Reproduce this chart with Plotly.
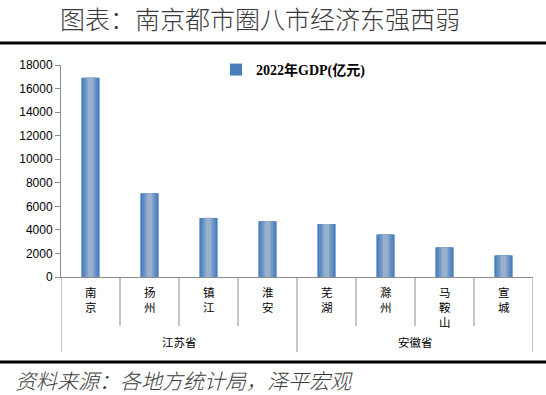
import plotly.graph_objects as go

cities = ["南京", "扬州", "镇江", "淮安", "芜湖", "滁州", "马鞍山", "宣城"]
provinces = ["江苏省", "安徽省"]
province_counts = [4, 4]
gdp = [16907, 7105, 5017, 4742, 4502, 3610, 2521, 1834]
series_name = "2022年GDP(亿元)"
y_ticks = [0, 2000, 4000, 6000, 8000, 10000, 12000, 14000, 16000, 18000]
title_text = "图表：南京都市圈八市经济东强西弱"
source_text = "资料来源：各地方统计局，泽平宏观"

W, H = 546, 395
L, R, T, B = 61, 13, 65, 118
PW, PH = W - L - R, H - T - B

def px_x(px):
    return (px - L) / PW

def px_y(py):
    return (H - B - py) / PH

fig = go.Figure()
layers = [(0.31, "#4A7EBB"), (0.25, "#5A8AC2"), (0.18, "#7599C6"), (0.10, "#98B0CB")]
for i, (w, c) in enumerate(layers):
    fig.add_trace(go.Bar(
        x=list(range(len(cities))), y=gdp, width=w, name=series_name,
        marker=dict(color=c, line=dict(width=0)),
        showlegend=(i == 0), hoverinfo="skip" if i else None,
    ))

fig.update_layout(
    width=W, height=H, barmode="overlay",
    margin=dict(l=L, r=R, t=T, b=B),
    plot_bgcolor="white", paper_bgcolor="white",
    showlegend=True,
    legend=dict(x=px_x(216), y=px_y(54), xanchor="left", yanchor="top",
                bgcolor="rgba(0,0,0,0)",
                font=dict(family="Liberation Serif, Noto Sans CJK SC", size=14, color="black", weight="bold"),
                itemwidth=30),
    xaxis=dict(range=[-0.5, len(cities) - 0.5], showticklabels=False, ticks="",
               showline=True, linecolor="#8C8C8C", linewidth=1, showgrid=False, zeroline=False),
    yaxis=dict(range=[0, 18000], tickvals=y_ticks, ticktext=[str(v) for v in y_ticks],
               ticks="outside", ticklen=5,
               tickcolor="#8C8C8C", showline=True, linecolor="#8C8C8C", linewidth=1,
               showgrid=False, zeroline=False,
               tickfont=dict(family="Liberation Sans, Arial", size=12, color="black")),
)

annotations = []
shapes = []
for i, c in enumerate(cities):
    annotations.append(dict(
        x=i, xref="x", y=px_y(282), yref="paper", yanchor="top", xanchor="center",
        text="<br>".join(list(c)), showarrow=False,
        font=dict(family="Noto Sans CJK SC", size=11.5, color="black")))

for k in range(len(cities) + 1):
    xpos = k - 0.5
    is_long = k in (0, 4, 8)
    shapes.append(dict(type="line", xref="x", yref="paper", x0=xpos, x1=xpos,
                       y0=0, y1=px_y(352 if is_long else 326),
                       line=dict(color="#8C8C8C", width=1)))

start = 0
for p, n in zip(provinces, province_counts):
    annotations.append(dict(
        x=start + (n - 1) / 2, xref="x", y=px_y(342), yref="paper", yanchor="middle",
        xanchor="center", text=p, showarrow=False,
        font=dict(family="Noto Sans CJK SC", size=11.5, color="black")))
    start += n

annotations.append(dict(x=px_x(260), xref="paper", y=px_y(18), yref="paper",
                        xanchor="center", yanchor="middle", text=title_text, showarrow=False,
                        font=dict(family="Noto Sans CJK SC", size=25, color="#3a3a3a", weight=300)))
annotations.append(dict(x=px_x(14), xref="paper", y=px_y(380), yref="paper",
                        xanchor="left", yanchor="middle", text="<i>" + source_text + "</i>",
                        showarrow=False, borderpad=0,
                        font=dict(family="Noto Sans CJK SC", size=21, color="#3a3a3a", weight=300)))

for py in (43, 362):
    shapes.append(dict(type="rect", xref="paper", yref="paper", x0=px_x(0), x1=px_x(W),
                       y0=px_y(py - 1.5), y1=px_y(py + 1.5), layer="above",
                       fillcolor="black", line=dict(width=0)))

fig.update_layout(annotations=annotations, shapes=shapes)
fig.write_html("out.html", config={"displayModeBar": False},
               post_script="document.body.style.margin='0';document.body.style.overflow='hidden';")
